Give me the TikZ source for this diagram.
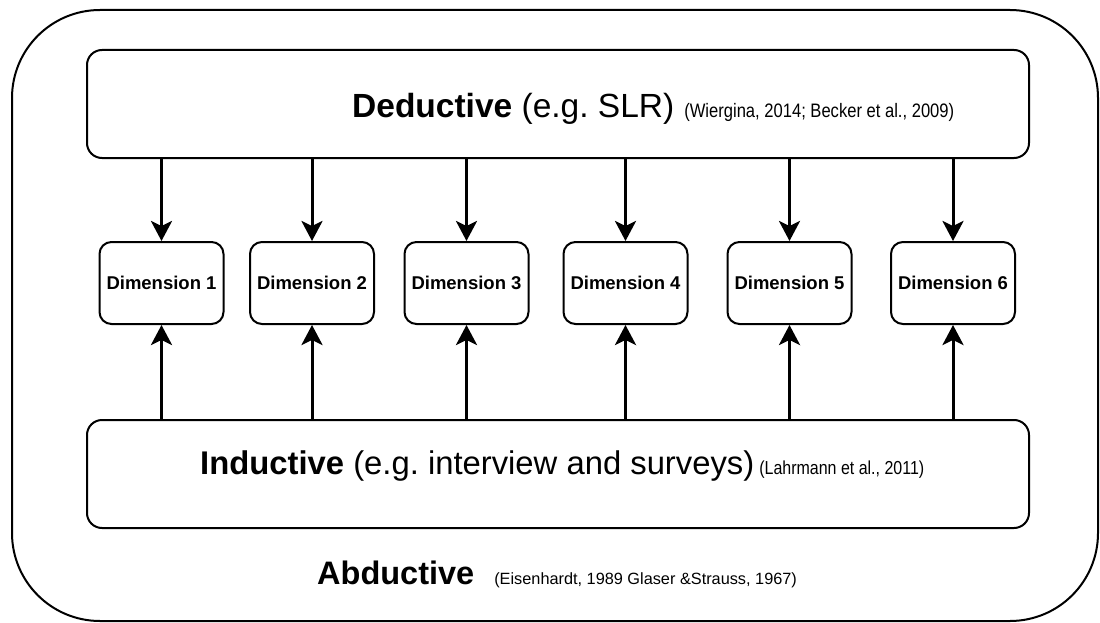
\documentclass[tikz,border=0pt]{standalone}
\usepackage{fontspec}
\setmainfont{Liberation Sans}
\newfontfamily\citef[FakeStretch=0.85]{Liberation Sans}
\usetikzlibrary{arrows.meta}
\frenchspacing
\tikzset{
  bigbox/.style={draw=black, line width=2pt, rounded corners=15pt, minimum width=942pt, minimum height=108pt, inner sep=0pt},
  dimbox/.style={draw=black, line width=2pt, rounded corners=12pt, minimum width=124pt, minimum height=82pt, inner sep=0pt, font=\fontsize{18.5pt}{20pt}\selectfont\bfseries},
  conn/.style={line width=3pt, -{Stealth[length=20pt,width=21pt,inset=5pt]}},
  txt/.style={anchor=base west, inner sep=0pt, font=\fontsize{33.5pt}{36pt}\selectfont}
}
\begin{document}
\begin{tikzpicture}[x=1pt,y=-1pt]
\useasboundingbox (0,0) rectangle (1100,623);
\draw[line width=2pt, rounded corners=88pt] (12,10) rectangle (1098,621);
\node[bigbox] (ded) at (558,104) {};
\node[bigbox] (ind) at (558,474) {};
\node[txt] (dedtxt) at (352,118) {\textbf{Deductive} (e.g. SLR)\hspace{10pt}{\fontsize{19.5pt}{22pt}\citef(Wiergina, 2014; Becker et al., 2009)}};
\node[txt, font=\fontsize{32.8pt}{36pt}\selectfont] (indtxt) at (200,474) {\textbf{Inductive} (e.g. interview and surveys)\hspace{5pt}{\fontsize{18.8pt}{22pt}\citef(Lahrmann et al., 2011)}};
\node[txt, font=\fontsize{32.5pt}{36pt}\selectfont] (abdtxt) at (317,584) {\textbf{Abductive}\hspace{20pt}{\fontsize{16.3pt}{20pt}\selectfont(Eisenhardt, 1989 Glaser \&Strauss, 1967)}};
\foreach \i/\x in {1/161.5, 2/312, 3/466.5, 4/625.5, 5/789.5, 6/953} {
  \node[dimbox] (d\i) at (\x,283) {Dimension \i};
  \draw[conn] (ded.south -| d\i.north) -- (d\i.north);
  \draw[conn] (ind.north -| d\i.south) -- (d\i.south);
}
\end{tikzpicture}
\end{document}
